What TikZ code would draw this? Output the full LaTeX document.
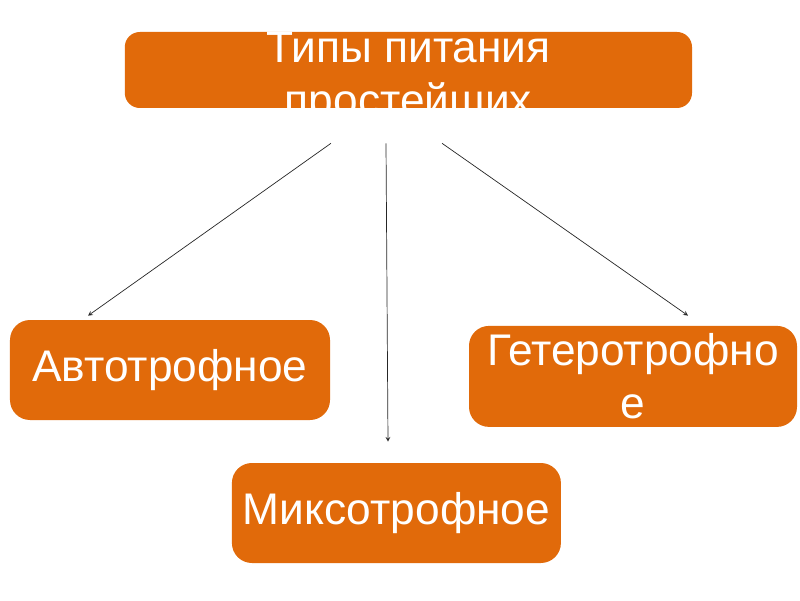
\documentclass[tikz,border=0pt]{standalone}
\usepackage{fontspec}
\setmainfont{Liberation Sans}
\usetikzlibrary{positioning,arrows}
\definecolor{boxorange}{RGB}{225,106,10}
\tikzstyle{titlebox} = [rectangle, rounded corners=0.375cm, minimum width=14.18cm, minimum height=1.9cm, fill=boxorange]
\tikzstyle{titletext} = [text=white, align=center, font=\fontsize{31.5}{37.7}\selectfont]
\tikzstyle{typebox} = [rectangle, rounded corners=0.5cm, minimum width=8.1cm, minimum height=2.5cm, inner sep=0pt, text centered, align=center, fill=boxorange, text=white, font=\fontsize{31.5}{37.7}\selectfont]
\tikzstyle{arrow} = [line width=0.5pt, draw=black!85, ->, >=stealth]
\begin{document}
\begin{tikzpicture}[node distance=2cm]
\useasboundingbox (0,0) rectangle (20,15);
 \node (top) [titlebox] at (10.21,13.25) {};
 \node (toptext) [titletext] at ([yshift=-0.22cm]top.center) {Типы питания\\простейших};
\node (auto) [typebox,below of=top,xshift=-5.96cm,yshift=-5.5cm,minimum width=8cm] {Автотрофное};
\node (hetero) [typebox,below of=top,xshift=5.615cm,yshift=-5.66cm,minimum width=8.2cm,minimum height=2.525cm] {Гетеротрофно\\е};
\node (mixo) [typebox,below of=top,xshift=-0.3cm,yshift=-9.075cm,minimum width=8.225cm] {Миксотрофное};
\draw [arrow] ([xshift=-1.935cm,yshift=-0.875cm]top.south) -- ([xshift=-2.05cm,yshift=0.1cm]auto.north);
\draw [arrow] ([xshift=-0.56cm,yshift=-0.875cm]top.south) -- ([xshift=-0.21cm,yshift=0.525cm]mixo.north);
\draw [arrow] ([xshift=0.84cm,yshift=-0.875cm]top.south) -- ([xshift=1.375cm,yshift=0.25cm]hetero.north);
  \end{tikzpicture}
\end{document}
